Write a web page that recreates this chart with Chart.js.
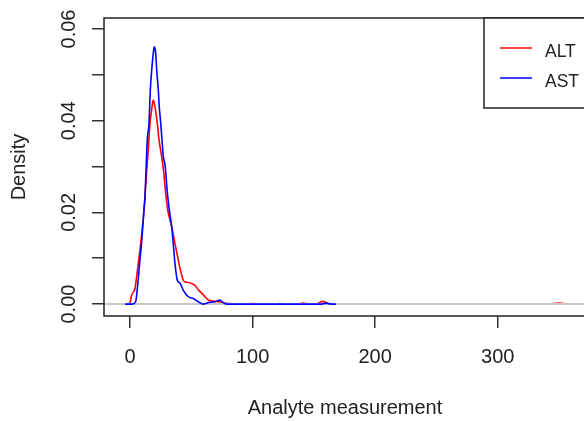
<!DOCTYPE html>
<html>
<head>
<meta charset="utf-8">
<script src="https://cdn.jsdelivr.net/npm/chart.js@4/dist/chart.umd.min.js"></script>
<style>
    html, body { margin: 0; padding: 0; background: #fff; overflow: hidden; }
    #wrap { width: 600px; height: 421px; }
</style>
</head>
<body>
<div id="wrap"><canvas id="chart" width="600" height="421"></canvas></div>
<script>
// Data
const altX = [-6, -2, 0, 1.4, 4.1, 6, 8, 9.5, 11.4, 13.6, 14.9, 16.3, 17.7, 19, 20.4, 22.3, 23.7, 25.9, 27.2, 29.1, 30.8, 34, 36.7, 39.4, 40.8, 42.2, 43.5, 45, 47.6, 50.3, 53, 55.8, 59.8, 63.9, 68, 73.5, 77.6, 85, 95, 100, 106, 118, 122, 126, 138, 141, 145, 152, 157, 161, 166, 200, 300, 342, 350, 358];
const altY = [0, 0, 0.0003, 0.002, 0.0034, 0.0072, 0.0115, 0.015, 0.0205, 0.029, 0.0336, 0.0394, 0.0425, 0.0445, 0.043, 0.0394, 0.0358, 0.0321, 0.0296, 0.0242, 0.0205, 0.0169, 0.0132, 0.0096, 0.0078, 0.0063, 0.0052, 0.0048, 0.0047, 0.0045, 0.0041, 0.0031, 0.002, 0.0009, 0.00065, 0.0005, 0.00015, 0.00005, 0, 0.0001, 0, 0, 0.0001, 0, 0, 0.0002, 0, 0, 0.0006, 0.0002, 0, 0, 0, 0, 0.0002, 0];

const astX = [-4, 2, 4.6, 6, 7.8, 9.8, 11.4, 12.2, 13.1, 14.1, 15.5, 16.6, 17.7, 19, 19.8, 21, 21.8, 23.1, 23.9, 25.1, 26.1, 27.2, 28.6, 30.5, 32.1, 34, 35.3, 36.7, 38.6, 40.8, 43.5, 47.6, 51.7, 55.8, 59.8, 65.3, 69.4, 73.5, 76.2, 79, 100, 140, 156, 160, 164, 168];
const astY = [0, 0, 0.0005, 0.0034, 0.0087, 0.0145, 0.0205, 0.0231, 0.0292, 0.0358, 0.0394, 0.0467, 0.051, 0.0547, 0.0561, 0.0547, 0.051, 0.0467, 0.043, 0.0394, 0.0358, 0.0321, 0.0303, 0.0242, 0.0205, 0.0169, 0.0132, 0.0089, 0.0052, 0.0046, 0.003, 0.0016, 0.0012, 0.0005, 0, 0.0004, 0.0005, 0.0009, 0.0003, 0, 0, 0, 0, 0.0002, 0, 0];

const xTickValues = [0, 100, 200, 300];
const xTickLabels = ['0', '100', '200', '300'];
const yTickMarks = [0, 0.01, 0.02, 0.03, 0.04, 0.05, 0.06];
const yTickValues = [0, 0.02, 0.04, 0.06];
const yTickLabels = ['0.00', '0.02', '0.04', '0.06'];
const seriesNames = ['ALT', 'AST'];

const X_MIN = -21.2, X_MAX = 372;
const Y_MIN = -0.0026, Y_MAX = 0.0624;

const FONT = '"Liberation Sans", Arial, sans-serif';
const INK = '#222';

const toPoints = (xs, ys) => xs.map((x, i) => ({ x: x, y: ys[i] }));

// R-style box, tick labels, titles and legend
const rDecor = {
    id: 'rDecor',
    afterDraw(chart) {
        const ctx = chart.ctx;
        const a = chart.chartArea;
        const xs = chart.scales.x, ys = chart.scales.y;
        ctx.save();

        // plot box
        ctx.strokeStyle = INK;
        ctx.lineWidth = 1.5;
        ctx.strokeRect(a.left, a.top, a.right - a.left, a.bottom - a.top);

        ctx.fillStyle = INK;
        ctx.font = '20px ' + FONT;
        ctx.textAlign = 'center';
        ctx.textBaseline = 'alphabetic';

        // x tick labels
        xTickValues.forEach((v, i) => {
            ctx.fillText(xTickLabels[i], xs.getPixelForValue(v), 362.5);
        });
        // x title
        ctx.fillText('Analyte measurement', (a.left + a.right) / 2, 414);

        // y tick labels (rotated)
        yTickValues.forEach((v, i) => {
            ctx.save();
            ctx.translate(74.5, ys.getPixelForValue(v));
            ctx.rotate(-Math.PI / 2);
            ctx.fillText(yTickLabels[i], 0, 0);
            ctx.restore();
        });
        // y title
        ctx.save();
        ctx.translate(24.5, (a.top + a.bottom) / 2);
        ctx.rotate(-Math.PI / 2);
        ctx.fillText('Density', 0, 0);
        ctx.restore();

        // legend (top right, inset 0)
        const lw = 102, lh = 90;
        const lx = a.right - lw, ly = a.top;
        ctx.fillStyle = '#fff';
        ctx.fillRect(lx, ly, lw, lh);
        ctx.strokeStyle = INK;
        ctx.lineWidth = 1.5;
        ctx.strokeRect(lx, ly, lw, lh);

        const colors = ['#ff0000', '#0000ff'];
        ctx.font = '17.5px ' + FONT;
        ctx.textAlign = 'left';
        seriesNames.forEach((name, i) => {
            const y = ly + 30 + i * 30;
            ctx.strokeStyle = colors[i];
            ctx.lineWidth = 1.5;
            ctx.beginPath();
            ctx.moveTo(lx + 16, y);
            ctx.lineTo(lx + 48, y);
            ctx.stroke();
            ctx.fillStyle = INK;
            ctx.fillText(name, lx + 61, y + 9);
        });

        ctx.restore();
    }
};

const axisCommon = {
    grid: { drawOnChartArea: false, drawTicks: true, tickLength: 12, color: '#333', lineWidth: 1.5 },
    border: { display: false }
};

new Chart(document.getElementById('chart').getContext('2d'), {
    type: 'line',
    data: {
        datasets: [
            {
                label: 'AST',
                data: toPoints(astX, astY),
                borderColor: '#0000ff',
                borderWidth: 1.6,
                pointRadius: 0,
                cubicInterpolationMode: 'monotone',
                order: 0
            },
            {
                label: 'zero',
                data: [{ x: X_MIN, y: 0 }, { x: X_MAX, y: 0 }],
                borderColor: '#c8c8c8',
                borderWidth: 2,
                pointRadius: 0,
                order: 1
            },
            {
                label: 'ALT',
                data: toPoints(altX, altY),
                borderColor: '#ff0000',
                borderWidth: 1.6,
                pointRadius: 0,
                cubicInterpolationMode: 'monotone',
                order: 2
            }
        ]
    },
    options: {
        responsive: false,
        animation: false,
        layout: { padding: { top: 18, right: 14, left: 0, bottom: 0 } },
        plugins: {
            legend: { display: false },
            tooltip: { enabled: false }
        },
        scales: {
            x: Object.assign({
                type: 'linear',
                min: X_MIN,
                max: X_MAX,
                ticks: { display: false },
                afterBuildTicks(s) { s.ticks = xTickValues.map(v => ({ value: v })); },
                afterFit(s) { s.height = 105; }
            }, axisCommon),
            y: Object.assign({
                type: 'linear',
                min: Y_MIN,
                max: Y_MAX,
                ticks: { display: false },
                afterBuildTicks(s) { s.ticks = yTickMarks.map(v => ({ value: v })); },
                afterFit(s) { s.width = 104; }
            }, axisCommon)
        }
    },
    plugins: [rDecor]
});
</script>
</body>
</html>
